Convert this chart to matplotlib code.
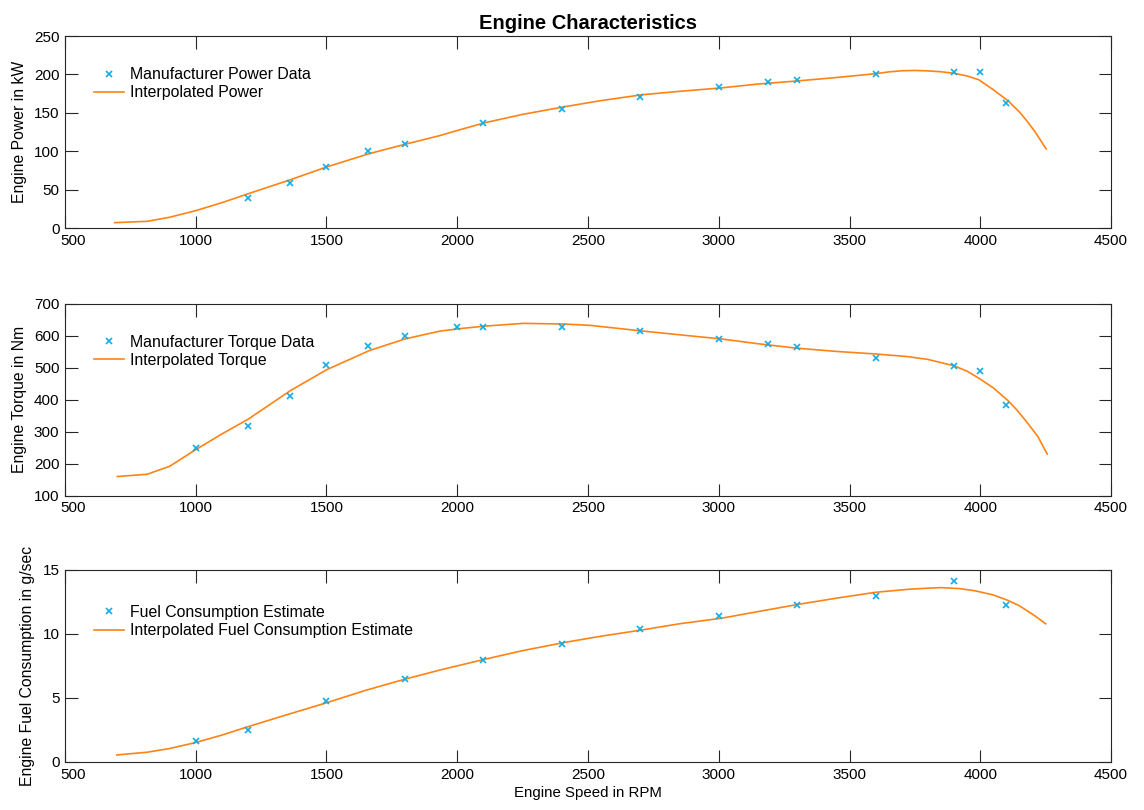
import numpy as np
import matplotlib.pyplot as plt
import matplotlib.transforms as mtransforms

# manufacturer data points
power_rpm = [1200, 1360, 1500, 1660, 1800, 2100, 2400, 2700, 3000, 3190, 3300, 3600, 3900, 4000, 4100]
power_kw = [38.5, 59, 79, 100, 110, 136.5, 154.5, 170.7, 183.7, 190.4, 192.6, 200.9, 203, 203, 162.5]

torque_rpm = [1000, 1200, 1360, 1500, 1660, 1800, 2000, 2100, 2400, 2700, 3000, 3190, 3300, 3600, 3900, 4000, 4100]
torque_nm = [249, 319, 411, 509, 567, 598, 626, 626, 626, 616, 591, 575, 564, 530, 504, 490, 383]

fuel_rpm = [1000, 1200, 1500, 1800, 2100, 2400, 2700, 3000, 3300, 3600, 3900, 4100]
fuel_gs = [1.65, 2.51, 4.76, 6.52, 7.95, 9.2, 10.4, 11.37, 12.26, 12.97, 14.13, 12.24]

# interpolated curves
pc_rpm = [690, 814, 900, 1000, 1100, 1202, 1363, 1501, 1665, 1800, 1935, 2000, 2104, 2250, 2408, 2542,
          2705, 2850, 3010, 3150, 3300, 3450, 3600, 3650, 3700, 3750, 3800, 3850, 3900, 3950, 3995,
          4050, 4105, 4150, 4177, 4210, 4252]
pc_kw = [7, 8.7, 14, 22.6, 33, 44.8, 63, 79.6, 97, 109, 120.5, 127, 137, 148, 157.8, 165.5,
         173.5, 178, 182.5, 187.5, 191.5, 196, 201, 203.3, 204.8, 205.2, 204.6, 203.5, 201.5, 198, 193,
         180, 166, 151, 140, 125, 103]

tc_rpm = [700, 814, 900, 1000, 1100, 1202, 1363, 1501, 1665, 1800, 1935, 2007, 2104, 2253, 2408, 2509,
          2705, 2850, 3010, 3150, 3300, 3450, 3600, 3720, 3800, 3900, 3950, 3995, 4050, 4105, 4140,
          4177, 4220, 4256]
tc_nm = [160, 167, 192, 244, 293, 340, 429, 494, 554, 590, 614.7, 622, 630, 638.7, 636.6, 632.4,
         615, 603, 590, 575, 561, 551, 543, 535, 526, 506, 489, 467, 437, 398, 368,
         331, 285, 230]

fc_rpm = [698, 814, 900, 1000, 1100, 1202, 1350, 1501, 1650, 1800, 1935, 2104, 2250, 2408, 2542, 2705,
          2850, 3010, 3150, 3300, 3450, 3600, 3730, 3800, 3850, 3920, 3981, 4050, 4105, 4150, 4210, 4250]
fc_gs = [0.55, 0.76, 1.05, 1.52, 2.1, 2.77, 3.7, 4.63, 5.6, 6.47, 7.19, 8.02, 8.7, 9.33, 9.8, 10.31,
         10.8, 11.23, 11.75, 12.3, 12.8, 13.26, 13.5, 13.58, 13.62, 13.55, 13.37, 13.05, 12.63, 12.2, 11.4, 10.8]

plt.rcParams['font.family'] = ['Liberation Sans', 'DejaVu Sans']
plt.rcParams['font.size'] = 11

blue = '#12ADE6'
orange = '#FF8315'
axcol = '#262626'

fig = plt.figure(figsize=(11.44, 8.10), dpi=100)
boxes = [[0.0568, 0.7185, 0.9144, 0.237],
         [0.0568, 0.388, 0.9144, 0.237],
         [0.0568, 0.0593, 0.9144, 0.237]]

panels = [
    (power_rpm, power_kw, pc_rpm, pc_kw, 'Manufacturer Power Data', 'Interpolated Power',
     'Engine Power in kW', (0, 250), np.arange(0, 251, 50)),
    (torque_rpm, torque_nm, tc_rpm, tc_nm, 'Manufacturer Torque Data', 'Interpolated Torque',
     'Engine Torque in Nm', (100, 700), np.arange(100, 701, 100)),
    (fuel_rpm, fuel_gs, fc_rpm, fc_gs, 'Fuel Consumption Estimate', 'Interpolated Fuel Consumption Estimate',
     'Engine Fuel Consumption in g/sec', (0, 15), np.arange(0, 16, 5)),
]

# first x tick label sits a little to the right, as in the original
shift = mtransforms.ScaledTranslation(8 / 100, 0, fig.dpi_scale_trans)

for i, (xr, yr, xc, yc, lab1, lab2, ylab, ylim, yt) in enumerate(panels):
    ax = fig.add_axes(boxes[i])
    ax.plot(xr, yr, 'x', color=blue, ms=5, mew=1.2, label=lab1, zorder=3)
    ax.plot(xc, yc, '-', color=orange, lw=1.2, label=lab2)
    ax.set_xlim(500, 4500)
    ax.set_xticks(np.arange(500, 4501, 500))
    ax.set_ylim(*ylim)
    ax.set_yticks(yt)
    ax.set_ylabel(ylab, fontsize=11.3, labelpad=5)
    ax.tick_params(direction='in', length=9, width=0.8, top=True, right=True,
                   colors=axcol, labelcolor='black', labelsize=11, pad=4)
    for s in ax.spines.values():
        s.set_color(axcol)
        s.set_linewidth(0.8)
    first = ax.get_xticklabels()[0]
    first.set_transform(first.get_transform() + shift)
    ax.legend(loc='upper left', bbox_to_anchor=(0.0096, 0.937 if i < 2 else 0.917),
              frameon=False, fontsize=11.4, handlelength=1.9, handletextpad=0.35,
              labelspacing=0.2, borderaxespad=0.8)
    if i == 0:
        ax.set_title('Engine Characteristics', fontsize=14.5, fontweight='bold', pad=5)
    if i == 2:
        ax.set_xlabel('Engine Speed in RPM', fontsize=10.8, labelpad=3)

fig.savefig('out.png', dpi=100)
